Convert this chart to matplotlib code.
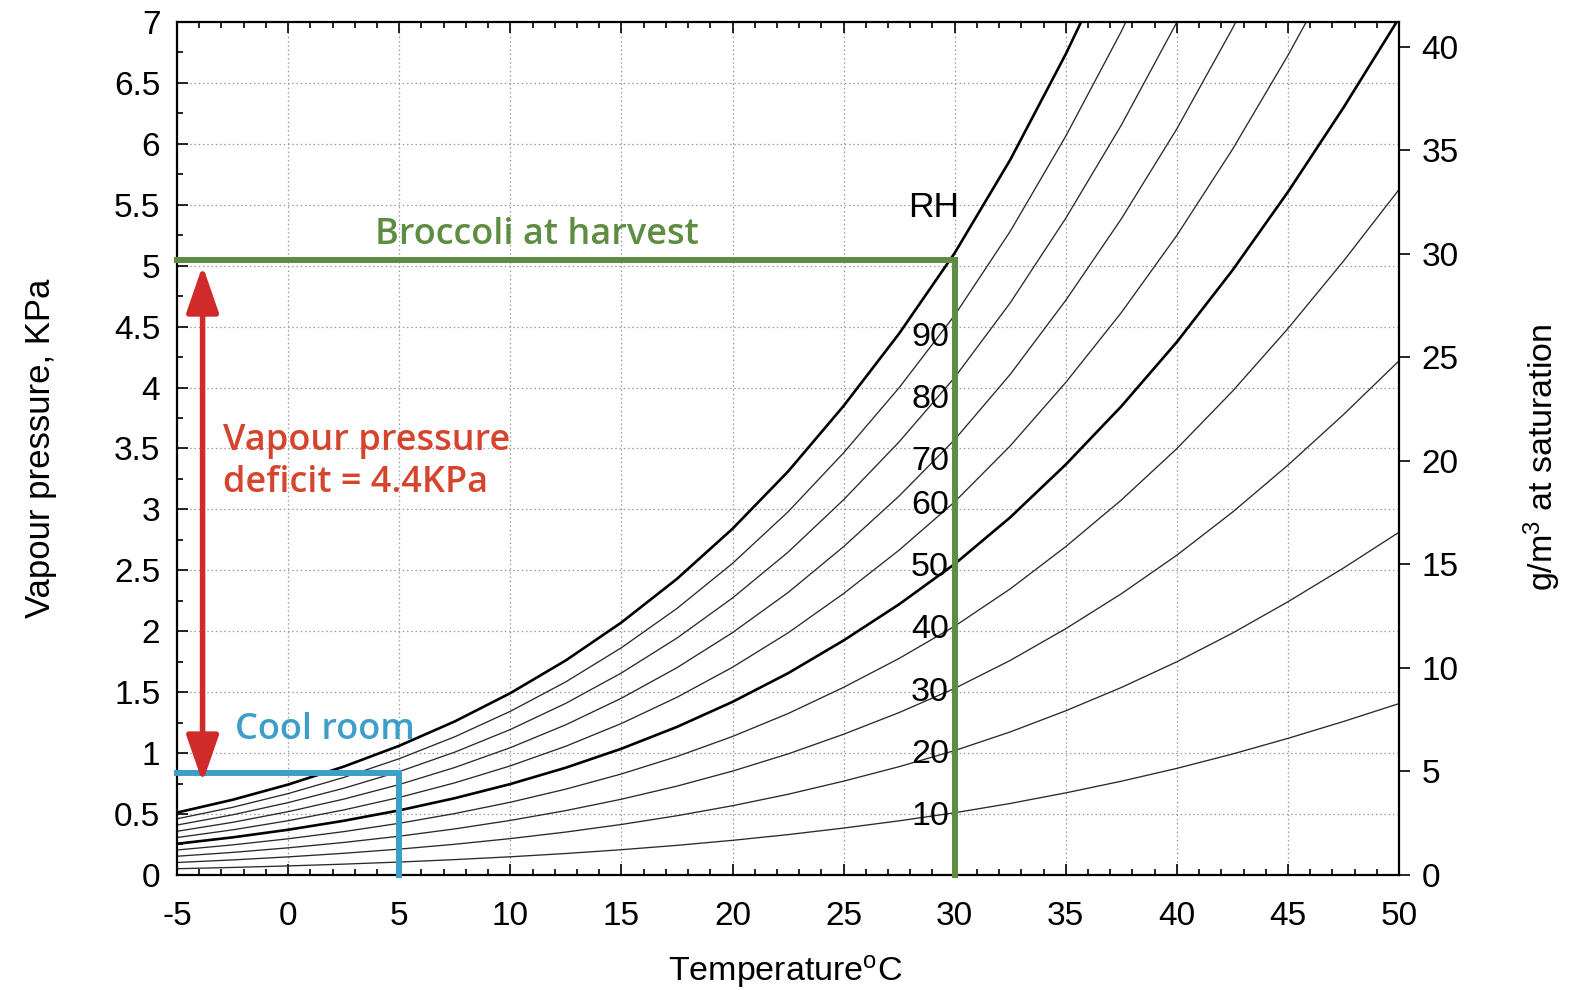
import matplotlib
matplotlib.use("Agg")
import matplotlib.pyplot as plt
from matplotlib.ticker import MultipleLocator
import numpy as np

plt.rcParams['font.family'] = ['Liberation Sans', 'DejaVu Sans']
plt.rcParams['axes.unicode_minus'] = False
plt.rcParams['mathtext.fontset'] = 'custom'
plt.rcParams['mathtext.rm'] = 'Liberation Sans'
plt.rcParams['mathtext.it'] = 'Liberation Sans'

# ---- data ----
temps = [-5, -2.5, 0, 2.5, 5, 7.5, 10, 12.5, 15, 17.5, 20, 22.5, 25, 27.5,
         30, 32.5, 35, 37.5, 40, 42.5, 45, 47.5, 50]
# saturation (100% RH) curve, kPa
sat_kpa = [0.512, 0.617, 0.742, 0.889, 1.060, 1.260, 1.492, 1.761, 2.072, 2.430,
           2.841, 3.311, 3.849, 4.443, 5.104, 5.869, 6.737, 7.692, 8.748, 9.923,
           11.211, 12.595, 14.064]
rh_levels = [100, 90, 80, 70, 60, 50, 40, 30, 20, 10]
rh_labels = ['90', '80', '70', '60', '50', '40', '30', '20', '10']
x_ticks = [-5, 0, 5, 10, 15, 20, 25, 30, 35, 40, 45, 50]
y_ticks = [0, 0.5, 1, 1.5, 2, 2.5, 3, 3.5, 4, 4.5, 5, 5.5, 6, 6.5, 7]
y2_ticks = [0, 5, 10, 15, 20, 25, 30, 35, 40]

harvest_temp = 30
harvest_vp = 5.05
cool_temp = 5
cool_vp = 0.84
deficit_top = 5.0
deficit_bottom = 0.76

GREEN = '#5e8c41'
RED = '#cf2b2b'
RED_TXT = '#d5452e'
BLUE = '#3d9fc9'
ANN_FONT = ['Open Sans', 'DejaVu Sans']

fig = plt.figure(figsize=(15.75, 9.9), dpi=100)
ax = fig.add_axes([0.1124, 0.1162, 0.7759, 0.8616])

t = np.array(temps)
s = np.array(sat_kpa)
for rh in rh_levels:
    thick = rh in (100, 50)
    ax.plot(t, s * rh / 100.0, color='black' if thick else '#2a2a2a',
            lw=1.9 if thick else 0.95, zorder=2, solid_capstyle='butt',
            solid_joinstyle='round')

ax.set_xlim(-5, 50)
ax.set_ylim(0, 7)
ax.set_xticks(x_ticks)
ax.set_yticks(y_ticks)
ax.set_yticklabels([('%g' % v) for v in y_ticks])
ax.xaxis.set_minor_locator(MultipleLocator(1))
ax.yaxis.set_minor_locator(MultipleLocator(0.25))
ax.tick_params(which='both', direction='in', top=True, right=True,
               labelright=False, width=1.2, labelsize=24, colors='black')
ax.tick_params(which='major', length=8)
ax.tick_params(which='minor', length=4.5)
ax.tick_params(axis='x', pad=19)
ax.tick_params(axis='y', pad=12)
ax.grid(True, which='major', color='#9a9a9a', lw=0.9, linestyle=(0, (1.2, 2.2)))
ax.set_axisbelow(True)
for sp in ax.spines.values():
    sp.set_linewidth(1.6)

ax.set_xlabel('Temperature$^{\\mathrm{o}}$C', fontsize=24.5)
ax.xaxis.set_label_coords(0.4975, -0.092)
ax.set_ylabel('Vapour pressure, KPa', fontsize=25)
ax.yaxis.set_label_coords(-0.098, 0.5)

ax2 = ax.twinx()
ax2.set_ylim(0, 41.2)
ax2.set_yticks(y2_ticks)
ax2.tick_params(axis='y', direction='out', length=8, width=1.2, labelsize=24, pad=8)
ax2.set_ylabel('g/m$^3$ at saturation', fontsize=24.5)
ax2.yaxis.set_label_coords(1.1, 0.49)
for sp in ax2.spines.values():
    sp.set_visible(False)

# Broccoli at harvest
ax.plot([-5, harvest_temp, harvest_temp], [harvest_vp, harvest_vp, 0],
        color=GREEN, lw=4.3, zorder=5, solid_joinstyle='miter', clip_on=False)
ax.text(11.2, 5.25, 'Broccoli at harvest', color=GREEN, fontsize=26,
        fontweight='semibold', family=ANN_FONT,
        ha='center', va='center', zorder=6)

# Cool room
ax.plot([-5, cool_temp, cool_temp], [cool_vp, cool_vp, 0],
        color=BLUE, lw=4.3, zorder=5, solid_joinstyle='miter', clip_on=False)
ax.text(1.65, 1.19, 'Cool room', color=BLUE, fontsize=26,
        fontweight='semibold', family=ANN_FONT,
        ha='center', va='center', zorder=6)

# Vapour pressure deficit arrow
ax.annotate('', xy=(-3.85, deficit_bottom), xytext=(-3.85, deficit_top),
            arrowprops=dict(arrowstyle='<|-|>,head_length=1.3,head_width=0.45',
                            color=RED, lw=4, mutation_scale=22,
                            shrinkA=0, shrinkB=0), zorder=6)
ax.text(-2.95, 3.39, 'Vapour pressure\ndeficit = 4.4KPa', color=RED_TXT,
        fontsize=26, fontweight='semibold', family=ANN_FONT,
        ha='left', va='center', linespacing=1.2, zorder=6)

# RH labels
ax.text(29.05, 5.48, 'RH', fontsize=25.5, ha='center', va='center', zorder=7)
sat30 = sat_kpa[temps.index(30)]
for lab in rh_labels:
    rh = int(lab)
    off = -0.18 if rh >= 70 else -0.03
    ax.text(29.75, sat30 * rh / 100.0 + off, lab, fontsize=24.5, ha='right',
            va='center', zorder=7)

fig.savefig('out.png', dpi=100)
